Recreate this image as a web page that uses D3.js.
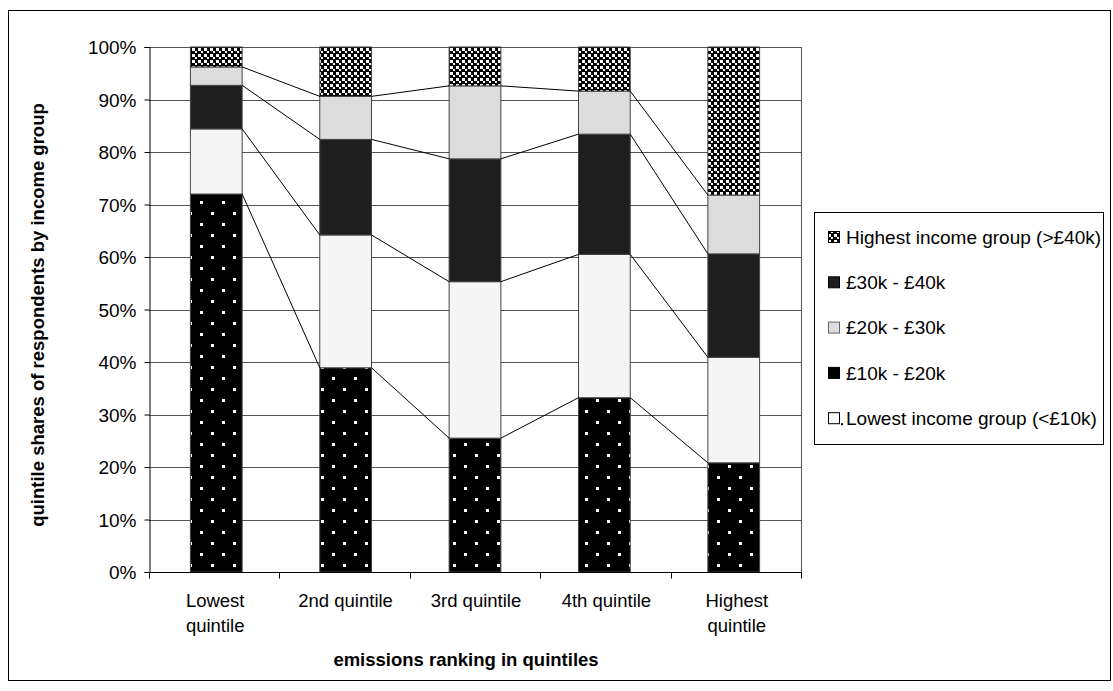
<!DOCTYPE html>
<html><head><meta charset="utf-8">
<script src="https://cdn.jsdelivr.net/npm/d3@7"></script>
<style>
body{margin:0;background:#fff;}
svg text{font-family:"Liberation Sans",Arial,sans-serif;fill:#000;}
</style></head>
<body><svg id="c" width="1113" height="691"></svg>
<script>
const categories = [["Lowest","quintile"],["2nd quintile"],["3rd quintile"],["4th quintile"],["Highest","quintile"]];
const seriesNames = ["Lowest income group (<£10k)","£10k - £20k","£20k - £30k","£30k - £40k","Highest income group (>£40k)"];
const lowestIncome = [72.0, 38.9, 25.5, 33.2, 20.8];
const inc10to20   = [12.4, 25.3, 29.8, 27.3, 20.1];
const inc20to30   = [8.3, 18.2, 23.4, 22.9, 19.7];
const inc30to40   = [3.5, 8.2, 13.9, 8.2, 11.2];
const highestIncome = [3.8, 9.4, 7.4, 8.4, 28.2];
const yTicks = [0,10,20,30,40,50,60,70,80,90,100];
const yTitle = "quintile shares of respondents by income group";
const xTitle = "emissions ranking in quintiles";

const svg = d3.select("#c");
const defs = svg.append("defs");
// dotted pattern: black with white dots
const pd = defs.append("pattern").attr("id","dots").attr("patternUnits","userSpaceOnUse")
  .attr("width",22).attr("height",22).attr("x",0).attr("y",0);
pd.append("rect").attr("width",22).attr("height",22).attr("fill","#000");
pd.append("rect").attr("x",2).attr("y",3).attr("width",3).attr("height",3).attr("fill","#fff");
pd.append("rect").attr("x",13).attr("y",14).attr("width",3).attr("height",3).attr("fill","#fff");
// checker pattern
const pc = defs.append("pattern").attr("id","checker").attr("patternUnits","userSpaceOnUse")
  .attr("width",6).attr("height",6);
pc.append("rect").attr("width",6).attr("height",6).attr("fill","#000");
pc.append("rect").attr("x",0).attr("y",0).attr("width",3).attr("height",3).attr("fill","#fff");
pc.append("rect").attr("x",3).attr("y",3).attr("width",2).attr("height",2).attr("fill","#fff");

const fills = ["url(#dots)","#f5f5f5","#1e1e1e","#dcdcdc","url(#checker)"];
const seriesVals = [lowestIncome, inc10to20, inc20to30, inc30to40, highestIncome];

// outer border
svg.append("rect").attr("x",8.5).attr("y",10.5).attr("width",1102).attr("height",670)
  .attr("fill","none").attr("stroke","#000").attr("stroke-width",1);

const L=149, R=801, T=47, B=572;
const catKeys = categories.map((c,i)=>i);
const x = d3.scaleBand().domain(catKeys).range([L,R]).paddingInner(0.6).paddingOuter(0.32);
const xb = d3.scaleBand().domain(catKeys).range([L,R]);
const y = d3.scaleLinear().domain([0,100]).range([B,T]);

// gridlines
svg.append("g").selectAll("line").data(yTicks.filter(d=>d>0)).join("line")
  .attr("x1",L).attr("x2",R).attr("y1",d=>Math.round(y(d))+0.5).attr("y2",d=>Math.round(y(d))+0.5)
  .attr("stroke","#555").attr("stroke-width",1);
// plot right border
svg.append("line").attr("x1",R+0.5).attr("x2",R+0.5).attr("y1",T).attr("y2",B).attr("stroke","#555");

// stack
const table = catKeys.map(i=>{const o={i}; seriesVals.forEach((s,k)=>o["s"+k]=s[i]); return o;});
const stack = d3.stack().keys(seriesVals.map((s,k)=>"s"+k))(table);

const gBars = svg.append("g");
stack.forEach((layer,k)=>{
  gBars.append("g").selectAll("rect").data(layer).join("rect")
    .attr("x",d=>x(d.data.i)).attr("width",x.bandwidth())
    .attr("y",d=>y(d[1])).attr("height",d=>y(d[0])-y(d[1]))
    .attr("fill",fills[k]).attr("stroke","#444").attr("stroke-width",1);
});

// series lines
const gLines = svg.append("g");
stack.slice(0,4).forEach(layer=>{
  for(let i=0;i<layer.length-1;i++){
    gLines.append("line")
      .attr("x1",x(i)+x.bandwidth()).attr("y1",y(layer[i][1]))
      .attr("x2",x(i+1)).attr("y2",y(layer[i+1][1]))
      .attr("stroke","#000").attr("stroke-width",1);
  }
});

// y axis
const yAxis = d3.axisLeft(y).tickValues(yTicks).tickFormat(d=>d+"%").tickSize(5).tickPadding(8);
const gy = svg.append("g").attr("transform",`translate(${L+0.5},0)`).call(yAxis);
gy.select(".domain").attr("stroke","#000");
gy.selectAll(".tick line").attr("stroke","#000");
gy.selectAll("text").style("font-size","19px").attr("dy","0.35em");

// x axis
const gx = svg.append("g").attr("transform",`translate(0,${B+0.5})`);
gx.append("line").attr("x1",L).attr("x2",R+1).attr("stroke","#000");
const bounds = catKeys.map(i=>xb(i)).concat([R]);
gx.selectAll("line.t").data(bounds).join("line").attr("class","t")
  .attr("x1",d=>Math.round(d)+0.5).attr("x2",d=>Math.round(d)+0.5).attr("y1",0).attr("y2",6).attr("stroke","#000");
const xl = gx.selectAll("text.c").data(categories).join("text").attr("class","c")
  .attr("text-anchor","middle").style("font-size","18.5px");
xl.each(function(lines,i){
  const t=d3.select(this);
  lines.forEach((ln,j)=>t.append("tspan").attr("x",xb(i)+xb.bandwidth()/2+1).attr("y",34+j*25).text(ln));
});

// axis titles
svg.append("text").attr("x",466).attr("y",666).attr("text-anchor","middle")
  .style("font-size","18.5px").style("font-weight","bold").text(xTitle);
svg.append("text").attr("transform","translate(44,315) rotate(-90)").attr("text-anchor","middle")
  .style("font-size","18.5px").style("font-weight","bold").text(yTitle);

// legend
const lg = svg.append("g");
lg.append("rect").attr("x",814.5).attr("y",212.5).attr("width",289).attr("height",232)
  .attr("fill","#fff").attr("stroke","#000");
const legendOrder = [4,3,2,1,0];
const swFill = {4:"url(#checker)",3:"#1e1e1e",2:"#dcdcdc",1:"#000",0:"#fff"};
const swStroke = {4:"#000",3:"#000",2:"#666",1:"#000",0:"#000"};
legendOrder.forEach((k,j)=>{
  const cy = 237 + j*45.3;
  lg.append("rect").attr("x",828.5).attr("y",cy-5.5).attr("width",11).attr("height",11)
    .attr("fill",swFill[k]).attr("stroke",swStroke[k]);
  if(k===0) lg.append("rect").attr("x",841).attr("y",cy+5).attr("width",2).attr("height",2).attr("fill","#000");
  lg.append("text").attr("x",846).attr("y",cy).attr("dy","0.35em").style("font-size","19px").text(seriesNames[k]);
});
</script></body></html>
